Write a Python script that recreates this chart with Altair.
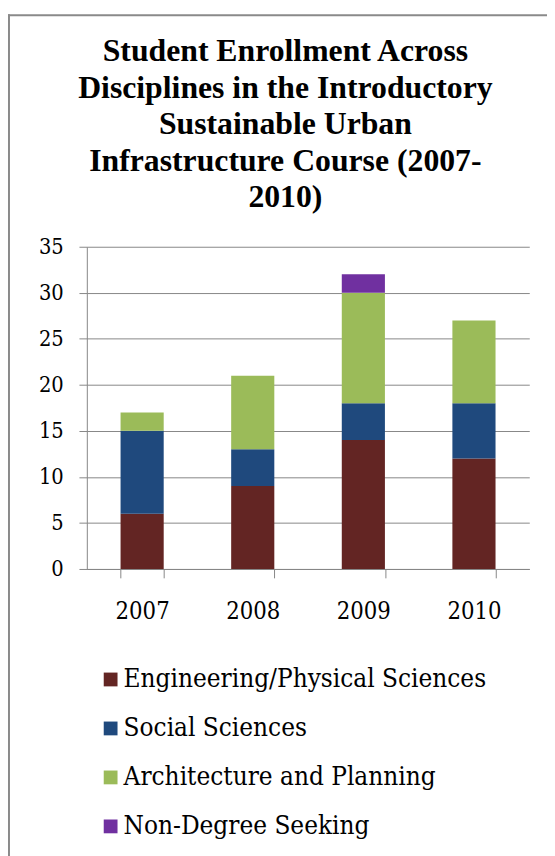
import altair as alt
import pandas as pd

years = ["2007", "2008", "2009", "2010"]
categories = [
    "Engineering/Physical Sciences",
    "Social Sciences",
    "Architecture and Planning",
    "Non-Degree Seeking",
]
engineering = [6, 9, 14, 12]
social = [9, 4, 4, 6]
architecture = [2, 8, 12, 9]
non_degree = [0, 0, 2, 0]
colors = ["#632523", "#1F497D", "#9BBB59", "#7030A0"]
y_ticks = [0, 5, 10, 15, 20, 25, 30, 35]
title_lines = [
    "Student Enrollment Across",
    "Disciplines in the Introductory",
    "Sustainable Urban",
    "Infrastructure Course (2007-",
    "2010)",
]

series = [engineering, social, architecture, non_degree]
rows = []
for ci, (cat, vals) in enumerate(zip(categories, series)):
    for y, v in zip(years, vals):
        rows.append({"Year": y, "Discipline": cat, "Students": v, "idx": ci})
df = pd.DataFrame(rows)

TITLE_FONT = "Liberation Serif"
FONT = "DejaVu Serif Condensed, DejaVu Serif"
GRAY = "#868686"

bars = alt.Chart(df).mark_bar().encode(
    x=alt.X(
        "Year:N",
        sort=years,
        scale=alt.Scale(paddingInner=0.61, paddingOuter=0.305),
        axis=alt.Axis(
            title=None,
            labelAngle=0,
            tickBand="extent",
            tickSize=9,
            tickColor=GRAY,
            domainColor=GRAY,
            labelFont=FONT,
            labelFontSize=24,
            labelColor="black",
            labelPadding=22,
            grid=False,
        ),
    ),
    y=alt.Y(
        "Students:Q",
        stack="zero",
        scale=alt.Scale(domain=[0, 35], nice=False),
        axis=alt.Axis(
            title=None,
            values=y_ticks,
            tickSize=8,
            tickColor=GRAY,
            domainColor=GRAY,
            gridColor=GRAY,
            gridWidth=1,
            labelFont=FONT,
            labelFontSize=22,
            labelColor="black",
            labelPadding=16,
        ),
    ),
    color=alt.Color(
        "Discipline:N",
        scale=alt.Scale(domain=categories, range=colors),
        legend=alt.Legend(
            title=None,
            orient="none",
            legendX=11,
            legendY=426,
            direction="vertical",
            symbolType="square",
            symbolSize=196,
            symbolStrokeWidth=0,
            labelFont=FONT,
            labelFontSize=26.3,
            labelColor="black",
            labelLimit=600,
            labelOffset=0,
            rowPadding=22.7,
            padding=0,
        ),
    ),
    order=alt.Order("idx:Q", sort="ascending"),
)

frame_df = pd.DataFrame({"k": [0]})
left_border = alt.Chart(frame_df).mark_rule(color="#8a8a8a", strokeWidth=2).encode(
    x=alt.value(-79), y=alt.value(-236), y2=alt.value(620)
)
top_border = alt.Chart(frame_df).mark_rule(color="#8a8a8a", strokeWidth=2).encode(
    x=alt.value(-80), x2=alt.value(480), y=alt.value(-235)
)

chart = (
    alt.layer(bars, left_border, top_border)
    .properties(
        width=449,
        height=327,
        autosize=alt.AutoSizeParams(type="none"),
        padding={"left": 80, "top": 236, "right": 18, "bottom": 285},
        title=alt.Title(
            text=title_lines,
            font=TITLE_FONT,
            fontSize=32.2,
            fontWeight="bold",
            lineHeight=37,
            anchor="middle",
            dx=-23,
            offset=-204,
            color="black",
        ),
    )
    .configure(background="white")
    .configure_view(strokeWidth=0)
)

chart.save("out.html", embed_options={"renderer": "svg", "actions": False})
